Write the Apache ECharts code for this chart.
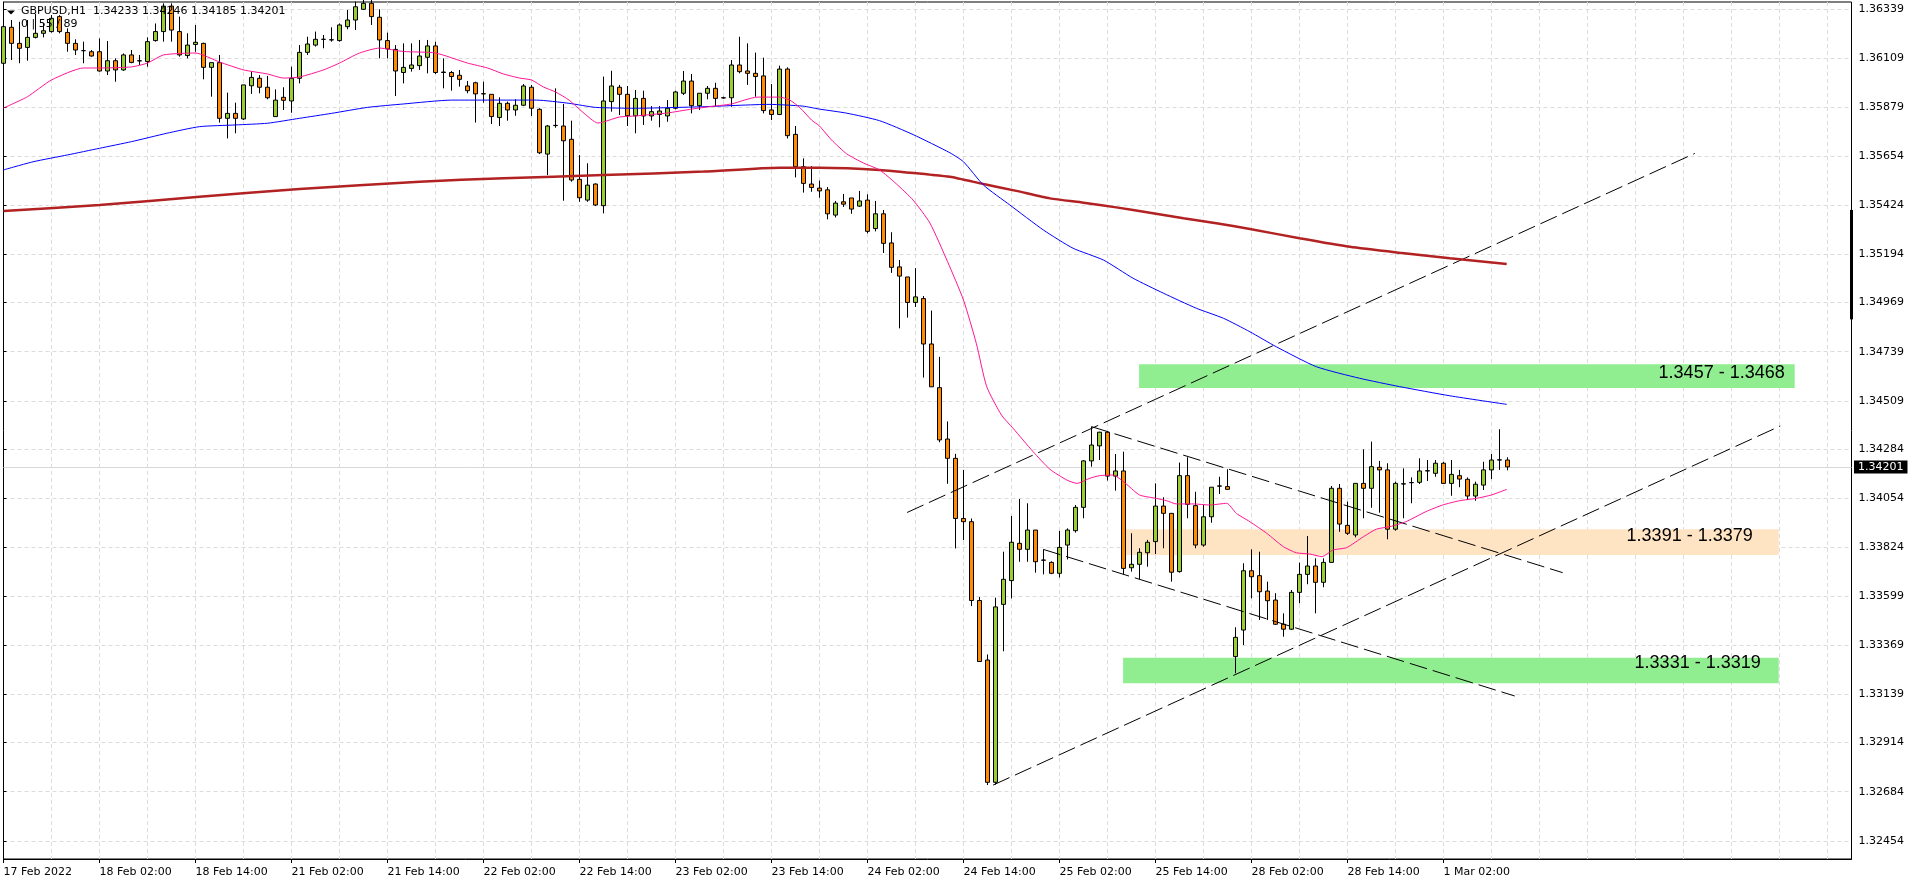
<!DOCTYPE html>
<html>
<head>
<meta charset="utf-8">
<script src="https://cdn.jsdelivr.net/npm/echarts@6/dist/echarts.min.js"></script>
<style>
html,body{margin:0;padding:0;background:#fff;}
#chart{width:1916px;height:884px;}
</style>
</head>
<body>
<div id="chart"></div>
<script>
// ---------- DATA ----------
const symbolInfo = 'GBPUSD,H1  1.34233 1.34246 1.34185 1.34201';
const indicatorInfo = '0 | 55 / 89';
const xTickLabels = ['17 Feb 2022','18 Feb 02:00','18 Feb 14:00','21 Feb 02:00','21 Feb 14:00','22 Feb 02:00','22 Feb 14:00','23 Feb 02:00','23 Feb 14:00','24 Feb 02:00','24 Feb 14:00','25 Feb 02:00','25 Feb 14:00','28 Feb 02:00','28 Feb 14:00','1 Mar 02:00'];
const yTickValues = [1.36339,1.36109,1.35879,1.35654,1.35424,1.35194,1.34969,1.34739,1.34509,1.34284,1.34054,1.33824,1.33599,1.33369,1.33139,1.32914,1.32684,1.32454];
const priceMin = 1.323697;
const priceMax = 1.363722;
const barSlots = 232;
const lastPrice = 1.34201;

// hourly candles: [open, close, low, high]
const candles = [
[1.36086,1.36257,1.36070,1.36280],[1.36254,1.36179,1.36101,1.36288],[1.36179,1.36156,1.36086,1.36280],[1.36160,1.36207,1.36098,1.36288],
[1.36207,1.36226,1.36202,1.36316],[1.36226,1.36238,1.36207,1.36272],[1.36234,1.36296,1.36229,1.36311],[1.36304,1.36234,1.36226,1.36311],
[1.36230,1.36179,1.36140,1.36249],[1.36179,1.36148,1.36125,1.36198],[1.36145,1.36145,1.36086,1.36187],[1.36140,1.36120,1.36117,1.36148],
[1.36140,1.36050,1.36047,1.36202],[1.36050,1.36098,1.36031,1.36190],[1.36098,1.36055,1.36000,1.36109],[1.36055,1.36125,1.36051,1.36132],
[1.36125,1.36090,1.36086,1.36148],[1.36098,1.36097,1.36078,1.36125],[1.36094,1.36187,1.36070,1.36207],[1.36192,1.36234,1.36187,1.36272],
[1.36234,1.36353,1.36187,1.36366],[1.36353,1.36241,1.36187,1.36366],[1.36234,1.36125,1.36117,1.36304],[1.36122,1.36171,1.36109,1.36226],
[1.36174,1.36184,1.36140,1.36265],[1.36179,1.36067,1.36011,1.36182],[1.36067,1.36089,1.35930,1.36089],[1.36089,1.35829,1.35809,1.36125],
[1.35829,1.35852,1.35735,1.35949],[1.35852,1.35829,1.35759,1.35902],[1.35826,1.35985,1.35821,1.35985],[1.35981,1.36020,1.35943,1.36047],
[1.36016,1.35974,1.35946,1.36031],[1.35974,1.35925,1.35918,1.36027],[1.35837,1.35914,1.35837,1.35964],[1.35927,1.35913,1.35868,1.35974],
[1.35910,1.36016,1.35855,1.36070],[1.36016,1.36137,1.35992,1.36171],[1.36137,1.36176,1.36125,1.36210],[1.36171,1.36198,1.36164,1.36234],
[1.36198,1.36198,1.36156,1.36218],[1.36195,1.36196,1.36187,1.36254],[1.36192,1.36265,1.36187,1.36272],[1.36257,1.36288,1.36245,1.36335],
[1.36288,1.36350,1.36241,1.36374],[1.36338,1.36366,1.36335,1.36382],[1.36366,1.36304,1.36265,1.36382],[1.36301,1.36195,1.36109,1.36338],
[1.36192,1.36153,1.36109,1.36229],[1.36151,1.36050,1.35933,1.36171],[1.36043,1.36067,1.35992,1.36179],[1.36062,1.36078,1.36047,1.36179],
[1.36075,1.36120,1.36055,1.36195],[1.36114,1.36167,1.36039,1.36195],[1.36167,1.36043,1.36036,1.36187],[1.36045,1.36043,1.35969,1.36109],
[1.36043,1.36024,1.35958,1.36050],[1.36030,1.36011,1.35977,1.36055],[1.35980,1.35958,1.35946,1.36003],[1.35995,1.35943,1.35809,1.36000],
[1.35944,1.35943,1.35902,1.36000],[1.35941,1.35837,1.35802,1.35941],[1.35833,1.35899,1.35793,1.35927],[1.35899,1.35868,1.35818,1.35907],
[1.35868,1.35890,1.35841,1.35918],[1.35890,1.35980,1.35886,1.35989],[1.35974,1.35876,1.35840,1.35985],[1.35871,1.35668,1.35662,1.35876],
[1.35662,1.35793,1.35564,1.35798],[1.35796,1.35795,1.35785,1.35969],[1.35793,1.35724,1.35444,1.35896],[1.35731,1.35541,1.35533,1.35818],
[1.35544,1.35458,1.35439,1.35657],[1.35447,1.35517,1.35439,1.35619],[1.35522,1.35424,1.35419,1.35525],[1.35421,1.35910,1.35385,1.36024],
[1.35907,1.35980,1.35860,1.36051],[1.35974,1.35941,1.35844,1.35985],[1.35941,1.35841,1.35793,1.35980],[1.35841,1.35922,1.35759,1.35961],
[1.35922,1.35840,1.35798,1.35958],[1.35840,1.35860,1.35818,1.35886],[1.35847,1.35863,1.35787,1.35886],[1.35840,1.35876,1.35813,1.35914],
[1.35876,1.35952,1.35871,1.35958],[1.35946,1.36003,1.35938,1.36050],[1.36003,1.35888,1.35852,1.36036],[1.35888,1.35946,1.35868,1.35946],
[1.35946,1.35969,1.35918,1.35980],[1.35969,1.35922,1.35886,1.35995],[1.35925,1.35924,1.35921,1.35930],[1.35925,1.36078,1.35883,1.36101],
[1.36078,1.36047,1.36039,1.36210],[1.36050,1.36039,1.35985,1.36179],[1.36039,1.36024,1.35930,1.36136],[1.36027,1.35865,1.35852,1.36112],
[1.35868,1.35847,1.35821,1.35989],[1.35847,1.36059,1.35844,1.36075],[1.36059,1.35748,1.35735,1.36067],[1.35754,1.35603,1.35553,1.35793],
[1.35603,1.35525,1.35482,1.35642],[1.35522,1.35506,1.35486,1.35606],[1.35503,1.35490,1.35458,1.35538],[1.35495,1.35383,1.35357,1.35508],
[1.35377,1.35433,1.35366,1.35443],[1.35439,1.35428,1.35415,1.35476],[1.35457,1.35405,1.35383,1.35457],[1.35419,1.35443,1.35415,1.35490],
[1.35447,1.35301,1.35292,1.35474],[1.35314,1.35383,1.35301,1.35443],[1.35383,1.35245,1.35200,1.35401],[1.35247,1.35133,1.35107,1.35297],
[1.35135,1.35092,1.34848,1.35167],[1.35088,1.34969,1.34898,1.35088],[1.34969,1.34995,1.34948,1.35129],[1.34987,1.34775,1.34618,1.34999],
[1.34775,1.34575,1.34575,1.34931],[1.34571,1.34327,1.34316,1.34715],[1.34331,1.34241,1.34122,1.34413],[1.34241,1.33960,1.33820,1.34262],
[1.33960,1.33945,1.33859,1.34187],[1.33945,1.33577,1.33551,1.33960],[1.33577,1.33292,1.33292,1.33593],[1.33299,1.32728,1.32715,1.33325],
[1.32728,1.33547,1.32717,1.33590],[1.33559,1.33676,1.33340,1.33805],[1.33670,1.33849,1.33587,1.33972],[1.33844,1.33816,1.33758,1.34051],
[1.33816,1.33906,1.33758,1.34031],[1.33906,1.33758,1.33707,1.33906],[1.33766,1.33765,1.33699,1.33813],[1.33755,1.33704,1.33700,1.33760],
[1.33704,1.33825,1.33684,1.33902],[1.33836,1.33906,1.33769,1.33914],[1.33903,1.34012,1.33894,1.34023],[1.34012,1.34229,1.33961,1.34233],
[1.34229,1.34303,1.34202,1.34389],[1.34299,1.34363,1.34233,1.34365],[1.34363,1.34158,1.34137,1.34365],[1.34158,1.34182,1.34090,1.34261],
[1.34182,1.33727,1.33699,1.34272],[1.33730,1.33746,1.33712,1.33891],[1.33746,1.33802,1.33676,1.33821],[1.33800,1.33849,1.33735,1.33860],
[1.33852,1.34018,1.33794,1.34124],[1.34018,1.33984,1.33821,1.34059],[1.33984,1.33709,1.33665,1.33984],[1.33712,1.34160,1.33707,1.34221],
[1.34160,1.34026,1.33961,1.34246],[1.34020,1.33836,1.33821,1.34085],[1.33836,1.33968,1.33828,1.34023],[1.33968,1.34106,1.33940,1.34106],
[1.34112,1.34111,1.34074,1.34155],[1.34109,1.34096,1.34096,1.34190],[1.33315,1.33405,1.33237,1.33452],[1.33439,1.33716,1.33369,1.33751],
[1.33716,1.33688,1.33587,1.33816],[1.33693,1.33618,1.33486,1.33805],[1.33621,1.33576,1.33486,1.33665],[1.33579,1.33466,1.33463,1.33611],
[1.33466,1.33443,1.33408,1.33517],[1.33443,1.33615,1.33439,1.33626],[1.33615,1.33699,1.33564,1.33754],[1.33699,1.33738,1.33653,1.33878],
[1.33738,1.33662,1.33517,1.33774],[1.33662,1.33755,1.33639,1.33774],[1.33755,1.34101,1.33754,1.34112],[1.34101,1.33934,1.33898,1.34121],
[1.33928,1.33891,1.33883,1.34039],[1.33883,1.34124,1.33872,1.34124],[1.34124,1.34101,1.33961,1.34283],[1.34101,1.34202,1.34010,1.34319],
[1.34199,1.34187,1.33987,1.34229],[1.34187,1.33910,1.33863,1.34218],[1.33910,1.34124,1.33903,1.34132],[1.34121,1.34122,1.33961,1.34194],
[1.34127,1.34128,1.34031,1.34152],[1.34129,1.34182,1.34121,1.34241],[1.34182,1.34183,1.34135,1.34233],[1.34171,1.34218,1.34155,1.34233],
[1.34218,1.34124,1.34121,1.34225],[1.34124,1.34166,1.34066,1.34233],[1.34160,1.34144,1.34106,1.34187],[1.34143,1.34065,1.34046,1.34152],
[1.34065,1.34120,1.34043,1.34132],[1.34116,1.34187,1.34093,1.34225],[1.34187,1.34233,1.34144,1.34261],[1.34233,1.34234,1.34187,1.34377],
[1.34233,1.34201,1.34185,1.34246]
];

// moving averages: [bar index, price]
const maFast = [
[0,1.35877],[3,1.35930],[6,1.36008],[10,1.36064],[12,1.36064],[16,1.36069],[18,1.36087],[20,1.36125],[24,1.36134],[27,1.36092],
[30,1.36055],[33,1.36036],[35,1.36017],[37,1.36022],[40,1.36055],[42,1.36087],[44.5,1.36134],[47,1.36157],[50,1.36141],[54,1.36134],
[58,1.36087],[60.5,1.36064],[62.5,1.36036],[64.5,1.36017],[66,1.36008],[67.5,1.35975],[69,1.35952],[70.7,1.35914],[72.4,1.35858],
[74.3,1.35807],[75,1.35812],[77,1.35835],[79,1.35840],[83,1.35854],[86,1.35872],[88,1.35882],[91,1.35896],[92.6,1.35914],[94.2,1.35928],
[97,1.35928],[98.3,1.35914],[99.6,1.35877],[101,1.35821],[102,1.35793],[103.5,1.35728],[105.4,1.35663],[107.5,1.35620],[109.5,1.35588],
[111.6,1.35523],[113.7,1.35447],[115.8,1.35340],[118,1.35160],[120,1.34980],[121.6,1.34778],[122.9,1.34576],[124.75,1.34443],
[126.2,1.34381],[128.7,1.34272],[130.8,1.34190],[132.9,1.34140],[134.2,1.34124],[135.8,1.34148],[137,1.34160],[138.7,1.34163],
[140,1.34132],[142,1.34070],[144.1,1.34054],[145.4,1.34043],[146.6,1.34028],[148.7,1.34028],[150.8,1.34023],[152.9,1.34031],
[154.1,1.33984],[155.8,1.33945],[157.9,1.33891],[160,1.33828],[161.6,1.33800],[163.3,1.33794],[164.8,1.33782],[166.2,1.33813],
[167.9,1.33824],[170,1.33875],[171.6,1.33910],[173.3,1.33922],[175.3,1.33945],[177.8,1.33992],[179.9,1.34023],[182,1.34043],
[184.1,1.34054],[186,1.34070],[187.9,1.34096]
];
const maMid = [
[0,1.35588],[3.7,1.35626],[8,1.35658],[12,1.35689],[16,1.35720],[20.4,1.35759],[24.5,1.35790],[29,1.35798],[33,1.35806],[37,1.35829],
[41,1.35852],[45.5,1.35880],[50,1.35896],[56,1.35914],[66.6,1.35914],[70.7,1.35899],[74,1.35880],[79,1.35876],[87.4,1.35883],
[95.7,1.35894],[99.9,1.35886],[102,1.35872],[105.4,1.35853],[109.5,1.35818],[113.7,1.35753],[118.3,1.35668],[120,1.35626],
[122.5,1.35517],[125.8,1.35424],[130,1.35307],[133.7,1.35222],[137.5,1.35167],[141.2,1.35082],[145,1.35012],[149.1,1.34942],
[152.5,1.34895],[155.8,1.34832],[159.1,1.34762],[164.1,1.34669],[169.5,1.34615],[174.5,1.34576],[180.8,1.34533],[187.9,1.34493]
];
const maSlow = [
[0,1.35396],[12,1.35424],[24.5,1.35463],[37,1.35499],[52,1.35533],[62.5,1.35549],[75,1.35564],[87.5,1.35580],[97,1.35598],
[102,1.35598],[109.5,1.35588],[115.8,1.35566],[118.3,1.35556],[122.5,1.35522],[126.6,1.35490],[130.8,1.35455],[135,1.35435],
[139.1,1.35413],[143.3,1.35388],[147.5,1.35362],[151.6,1.35339],[155.8,1.35312],[162,1.35269],[168.3,1.35229],[174.5,1.35201],
[180.8,1.35175],[187.9,1.35149]
];

// dashed trend lines: [bar index, price] end points
const channelUpper = [[112.95,1.33988],[211.41,1.35665]];
const channelLower = [[123.7,1.32715],[222.1,1.34392]];
const flagUpper = [[136,1.34389],[194.9,1.33707]];
const flagLower = [[129.95,1.33816],[188.9,1.33131]];

// zones: [fromBar, toBar, lowPrice, highPrice, label]
const zoneResistance = [141.95, 223.9, 1.3457, 1.3468, '1.3457 - 1.3468'];
const zonePivot = [140.16, 221.9, 1.3379, 1.3391, '1.3391 - 1.3379'];
const zoneSupport = [139.95, 221.9, 1.3319, 1.3331, '1.3331 - 1.3319'];

// scale marker on the price axis
const scaleMarker = [1.35401, 1.34890];

// ---------- CHART ----------
const FONT = 'DejaVu Sans';
const GRID_COLOR = '#dcdcdc';
const chart = echarts.init(document.getElementById('chart'), null, {renderer: 'canvas'});
const cats = Array.from({length: barSlots}, (_, i) => String(i));
const labelIdx = i => i % 12 === 0 && (i / 12) < xTickLabels.length;

function zoneArea(z, color, dist, off) {
  return [
    {xAxis: z[0], yAxis: z[3], itemStyle: {color: color},
     label: {show: true, formatter: z[4], position: 'insideRight', distance: dist, offset: [0, off],
             color: '#000', fontFamily: 'Liberation Sans', fontSize: 18}},
    {xAxis: z[1], yAxis: z[2]}
  ];
}
function dashed(data) {
  return {type: 'line', xAxisIndex: 1, yAxisIndex: 0, data: data, showSymbol: false, symbol: 'none',
          z: 4, silent: true, lineStyle: {color: '#000', width: 1, type: [18, 6]}};
}

const option = {
  animation: false,
  backgroundColor: '#fff',
  grid: {left: 3.5, right: 64.5, top: 2, bottom: 25, show: true, borderColor: '#000', borderWidth: 1, backgroundColor: '#fff'},
  xAxis: [
    {type: 'category', data: cats, boundaryGap: false, gridIndex: 0,
     axisLine: {show: true, lineStyle: {color: '#000', width: 1}},
     axisTick: {show: true, interval: labelIdx, length: 4, lineStyle: {color: '#000'}},
     axisLabel: {show: true, interval: labelIdx, formatter: (v, i) => xTickLabels[i / 12] || '',
                 align: 'left', margin: 8, color: '#000', fontFamily: FONT, fontSize: 11},
     splitLine: {show: true, interval: i => i % 6 === 0, lineStyle: {color: GRID_COLOR, type: [4, 3], width: 1}}},
    {type: 'value', min: 0, max: barSlots - 1, show: false, gridIndex: 0}
  ],
  yAxis: [{
    type: 'value', position: 'right', min: priceMin, max: priceMax,
    axisLine: {show: true, lineStyle: {color: '#000', width: 1}},
    axisTick: {show: true, length: 3, customValues: yTickValues, lineStyle: {color: '#000'}},
    axisLabel: {show: true, customValues: yTickValues, formatter: v => v.toFixed(5), margin: 7,
                color: '#000', fontFamily: FONT, fontSize: 11},
    splitLine: {show: true, lineStyle: {color: GRID_COLOR, type: [4, 3], width: 1}}
  }],
  series: [
    {type: 'line', xAxisIndex: 1, yAxisIndex: 0, data: [], z: 1, silent: true,
     markArea: {silent: true, z: 1, data: [
       zoneArea(zoneResistance, '#90EE90', 10, -3),
       zoneArea(zonePivot, '#FFE4C4', 26, -6),
       zoneArea(zoneSupport, '#90EE90', 18, -7)
     ]},
     markLine: {silent: true, symbol: 'none', z: 2, precision: 5,
       lineStyle: {color: '#d8d8d8', type: 'solid', width: 1},
       label: {show: true, position: 'end', distance: 2.5, formatter: lastPrice.toFixed(5),
               backgroundColor: '#000', color: '#fff', fontFamily: FONT, fontSize: 11, padding: [1, 4, 1, 4]},
       data: [{yAxis: lastPrice}]}},
    {type: 'candlestick', xAxisIndex: 0, yAxisIndex: 0, data: candles, z: 3, barWidth: 4,
     itemStyle: {color: '#9ACD32', color0: '#FF8C00', borderColor: '#000', borderColor0: '#000',
                 borderColorDoji: '#000', borderWidth: 1}},
    {type: 'line', xAxisIndex: 1, yAxisIndex: 0, data: maSlow, showSymbol: false, symbol: 'none', z: 5, smooth: 0.2,
     lineStyle: {color: '#B22222', width: 2.5}},
    {type: 'line', xAxisIndex: 1, yAxisIndex: 0, data: maMid, showSymbol: false, symbol: 'none', z: 5, smooth: 0.2,
     lineStyle: {color: '#0000FF', width: 1}},
    {type: 'line', xAxisIndex: 1, yAxisIndex: 0, data: maFast, showSymbol: false, symbol: 'none', z: 5, smooth: 0.2,
     lineStyle: {color: '#FF1493', width: 1}},
    dashed(channelUpper), dashed(channelLower), dashed(flagUpper), dashed(flagLower),
    {type: 'line', xAxisIndex: 1, yAxisIndex: 0, data: [[barSlots - 1, scaleMarker[0]], [barSlots - 1, scaleMarker[1]]],
     showSymbol: false, symbol: 'none', clip: false, z: 6, lineStyle: {color: '#000', width: 3}}
  ],
  graphic: [
    {type: 'polygon', z: 100, shape: {points: [[7, 10.5], [15, 10.5], [11, 14.5]]}, style: {fill: '#000'}},
    {type: 'text', z: 100, left: 21, top: 6, style: {text: symbolInfo, fill: '#000', font: '11px "DejaVu Sans"'}},
    {type: 'text', z: 100, left: 21, top: 19, style: {text: indicatorInfo, fill: '#000', font: '11px "DejaVu Sans"'}}
  ]
};
chart.setOption(option);
</script>
</body>
</html>
